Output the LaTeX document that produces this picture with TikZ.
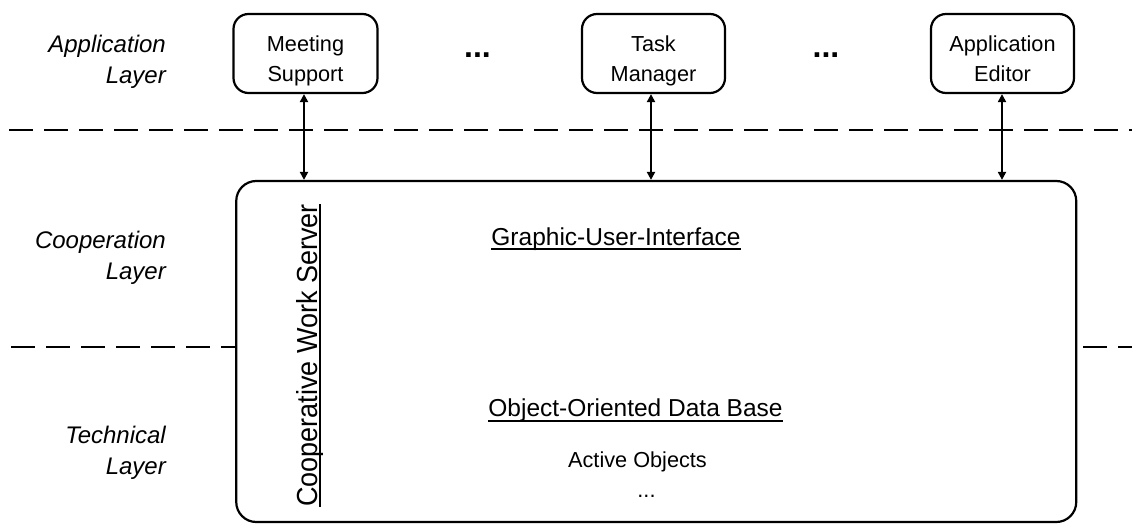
\documentclass[tikz,border=0pt]{standalone}
\usepackage{fontspec}
\setmainfont{Liberation Sans}
\usetikzlibrary{arrows.meta}
\newcommand\myul[2][5pt]{\setbox0\hbox{#2}\rlap{\rule[-#1]{\wd0}{1.8pt}}\box0}
\newcommand\topstrut{\rule[-7pt]{0pt}{40pt}}
\newcommand\botstrut{\rule[-7pt]{0pt}{29pt}}
\begin{document}
\begin{tikzpicture}[x=1pt,y=-1pt,
  appbox/.style={draw, line width=2.2pt, rounded corners=15pt, minimum width=144pt,
    minimum height=79pt, align=center, inner sep=0pt,
    font=\fontsize{21.7}{29.5}\selectfont},
  layerlabel/.style={align=right, anchor=east, inner sep=0pt,
    font=\itshape\fontsize{24}{31}\selectfont},
  sepline/.style={line width=2pt, dash pattern=on 24pt off 11pt},
  link/.style={line width=2pt, {Triangle[length=8pt,width=8pt]}-{Triangle[length=8pt,width=8pt]}},
  heading/.style={anchor=base, inner sep=0pt, font=\fontsize{24.5}{30}\selectfont},
  plain/.style={anchor=base, inner sep=0pt, font=\fontsize{21.7}{30}\selectfont},
  bigdots/.style={anchor=base, inner sep=0pt, font=\bfseries\fontsize{32}{34}\selectfont},
  server/.style={draw, line width=2.2pt, rounded corners=20pt, minimum width=840pt,
    minimum height=341pt, inner sep=0pt}
]
\useasboundingbox (0,0) rectangle (1132,527);

% layer separators
\coordinate (s1a) at (9,130);
\coordinate (s1b) at (1132,130);
\draw[sepline] (s1a) -- (s1b);

% layer labels
\node[layerlabel] (lapp) at (166,61.3) {\strut Application\\\strut Layer};
\node[layerlabel] (lcoop) at (166,257.3) {\strut Cooperation\\\strut Layer};
\node[layerlabel] (ltech) at (166,452.8) {\strut Technical\\\strut Layer};

% application boxes
\node[appbox] (meeting) at (305.5,53.5) {\topstrut Meeting\\\botstrut Support};
\node[appbox, minimum width=143pt] (task) at (653.5,53.5) {\topstrut Task\\\botstrut Manager};
\node[appbox, minimum width=143pt] (editor) at (1002.5,53.5) {\topstrut Application\\\botstrut Editor};
\node[bigdots] (dots1) at (477.5,57.5) {...};
\node[bigdots] (dots2) at (826,57.5) {...};

% cooperative work server box
\node[server] (server) at (656.25,351.5) {};

% lower separator pieces
\coordinate (s2a) at (11,347);
\coordinate (s2b) at (server.west |- 0,347);
\coordinate (s2c) at (1083,347);
\coordinate (s2d) at (1132,347);
\draw[sepline] (s2a) -- (s2b);
\draw[sepline] (s2c) -- (s2d);

% links
\draw[link] ([xshift=-1.5pt]meeting.south) -- ([xshift=-1.5pt]meeting.south |- server.north);
\draw[link] ([xshift=-2.5pt]task.south) -- ([xshift=-2.5pt]task.south |- server.north);
\draw[link] ([xshift=-0.5pt]editor.south) -- ([xshift=-0.5pt]editor.south |- server.north);

% contents of server box
\node[rotate=90, anchor=base, inner sep=0pt] (cws) at (317,355.5)
  {\scalebox{0.93}[1]{\fontsize{29}{30}\selectfont\myul[3.5pt]{Cooperative Work Server}}};
\node[heading] (gui) at (616,245) {\myul{Graphic-User-Interface}};
\node[heading] (oodb) at (635.5,416.7) {\myul{Object-Oriented Data Base}};
\node[plain] (active) at (637.5,467.8) {Active Objects};
\node[plain] (more) at (646.5,497) {...};
\end{tikzpicture}
\end{document}
